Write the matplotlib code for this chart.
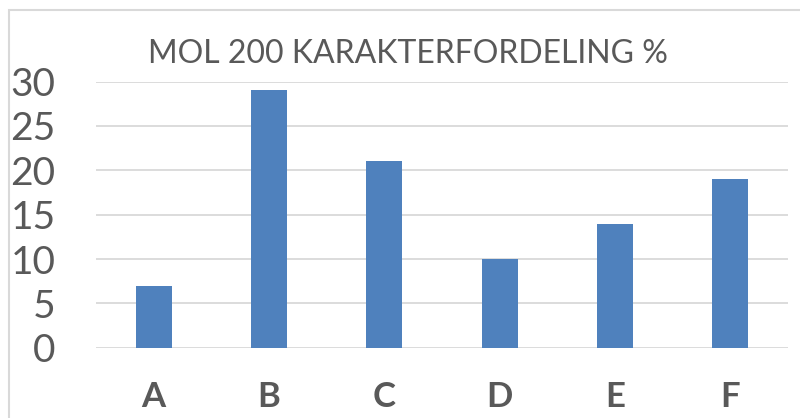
import matplotlib
matplotlib.use("Agg")
from matplotlib import pyplot as plt
from matplotlib.patches import Rectangle

# grade distribution
grades = ['A', 'B', 'C', 'D', 'E', 'F']
percent = [7, 29, 21, 10, 14, 19]
yticks = [0, 5, 10, 15, 20, 25, 30]
title = 'MOL 200 KARAKTERFORDELING %'

plt.rcParams['font.family'] = ['Lato', 'DejaVu Sans']
grey = '#595959'

fig = plt.figure(figsize=(8, 4.18), dpi=100)
ax = fig.add_axes([0.12, 0.168, 0.865, 0.637])

ax.bar(range(len(grades)), percent, width=0.31, color='#4f81bd', zorder=3)
ax.set_xlim(-0.5, len(grades) - 0.5)
ax.set_ylim(0, 30)
ax.set_yticks(yticks)
ax.set_xticks(range(len(grades)))
ax.set_xticklabels(grades, fontsize=25, fontweight='bold', color=grey)
ax.tick_params(axis='y', labelsize=28, colors=grey, length=0, pad=29)
ax.tick_params(axis='x', length=0, pad=24)
ax.grid(axis='y', color='#d9d9d9', lw=1.3, zorder=0)
for s in ax.spines.values():
    s.set_visible(False)

fig.text(0.51, 0.871, title, ha='center', va='center', fontsize=23, color=grey)

# chart frame, cut off at the right and bottom
fig.patches.append(Rectangle((9 / 800, -0.1), 1.0, 1 - 10 / 418 + 0.1,
                             transform=fig.transFigure, fill=False,
                             edgecolor='#d9d9d9', lw=1.5))

fig.savefig('out.png', dpi=100)
